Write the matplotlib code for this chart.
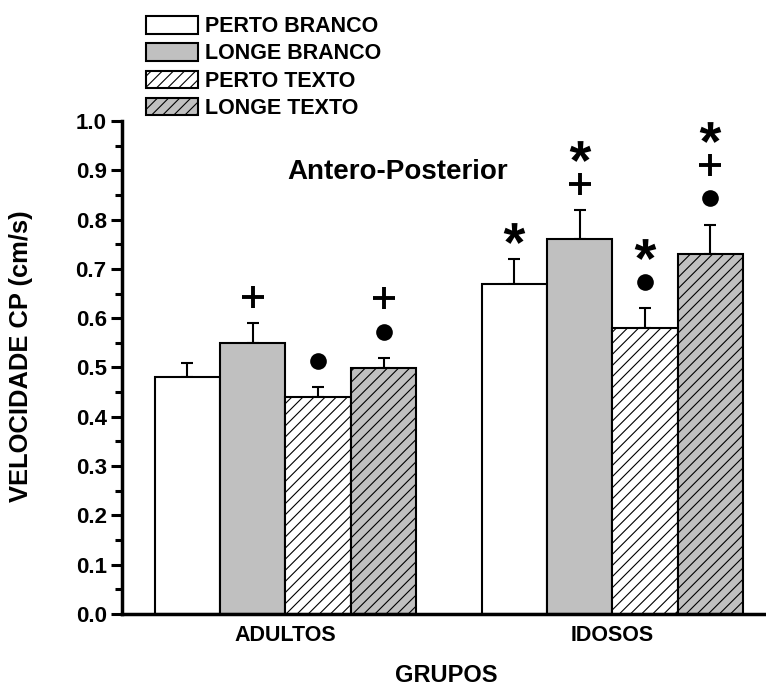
import numpy as np
import matplotlib
matplotlib.use("Agg")
import matplotlib.pyplot as plt
from matplotlib.path import Path
from matplotlib.textpath import TextPath
from matplotlib.font_manager import FontProperties
from matplotlib.ticker import MultipleLocator, FormatStrFormatter

plt.rcParams['font.family'] = ['Liberation Sans', 'DejaVu Sans']
plt.rcParams['font.weight'] = 'bold'
plt.rcParams['hatch.linewidth'] = 0.8

grupos = ['ADULTOS', 'IDOSOS']
condicoes = ['PERTO BRANCO', 'LONGE BRANCO', 'PERTO TEXTO', 'LONGE TEXTO']

# means and (upper) SE per condition, one value per group
medias = {
    'PERTO BRANCO': [0.48, 0.67],
    'LONGE BRANCO': [0.55, 0.76],
    'PERTO TEXTO': [0.44, 0.58],
    'LONGE TEXTO': [0.50, 0.73],
}
erros = {
    'PERTO BRANCO': [0.03, 0.05],
    'LONGE BRANCO': [0.04, 0.06],
    'PERTO TEXTO': [0.02, 0.04],
    'LONGE TEXTO': [0.02, 0.06],
}
# significance marks, listed from bottom to top
marcas = {
    'PERTO BRANCO': [[], ['*']],
    'LONGE BRANCO': [['+'], ['+', '*']],
    'PERTO TEXTO': [['o'], ['o', '*']],
    'LONGE TEXTO': [['o', '+'], ['o', '+', '*']],
}

cores = {'PERTO BRANCO': 'white', 'LONGE BRANCO': '#c0c0c0',
         'PERTO TEXTO': 'white', 'LONGE TEXTO': '#c0c0c0'}
hachuras = {'PERTO BRANCO': None, 'LONGE BRANCO': None,
            'PERTO TEXTO': '///', 'LONGE TEXTO': '///'}

# asterisk marker from the font glyph, centred on its ink
tp = TextPath((0, 0), '*', prop=FontProperties(family='Liberation Sans', weight='bold'))
ext = tp.get_extents()
centro = np.array([(ext.x0 + ext.x1) / 2, (ext.y0 + ext.y1) / 2])
verts = tp.vertices.copy()
verts[tp.codes == Path.CLOSEPOLY] = centro
asterisco = Path(verts - centro, tp.codes)

estilo_marca = {
    '*': dict(marker=asterisco, markersize=15.5, color='black', markeredgewidth=0),
    '+': dict(marker='+', markersize=16, color='black', markeredgewidth=2.8),
    'o': dict(marker='o', markersize=12, color='black', markeredgewidth=0),
}

fig = plt.figure(figsize=(7.66, 6.86), dpi=100)
ax = fig.add_axes([122 / 766, 1 - 614 / 686, 1 - 122 / 766, (614 - 121) / 686])

x = np.arange(len(grupos))
largura = 0.2
for i, c in enumerate(condicoes):
    pos = x + (i - 1.5) * largura
    m = np.array(medias[c])
    e = np.array(erros[c])
    ax.bar(pos, m, largura, color=cores[c], edgecolor='black', linewidth=1.5,
           hatch=hachuras[c], label=c, zorder=2)
    ax.errorbar(pos, m, yerr=[np.zeros_like(e), e], fmt='none', ecolor='black',
                elinewidth=1.5, capsize=4, capthick=1.5, zorder=1)
    for j in range(len(grupos)):
        topo = m[j] + e[j]
        for k, s in enumerate(marcas[c][j]):
            ax.plot(pos[j], topo + 0.053 + k * 0.067, linestyle='none',
                    clip_on=False, **estilo_marca[s])

ax.set_xlim(-0.5, 1.47)
ax.set_ylim(0, 1.0)
ax.set_xticks(x)
ax.set_xticklabels(grupos, fontsize=15.5, fontweight='bold')
ax.tick_params(axis='x', length=0, pad=8)
ax.yaxis.set_major_locator(MultipleLocator(0.1))
ax.yaxis.set_minor_locator(MultipleLocator(0.05))
ax.yaxis.set_major_formatter(FormatStrFormatter('%.1f'))
ax.tick_params(axis='y', which='major', length=8, width=2.2, labelsize=16, pad=3)
ax.tick_params(axis='y', which='minor', length=5, width=2.2)
for lbl in ax.get_yticklabels():
    lbl.set_fontweight('bold')

ax.spines['top'].set_visible(False)
ax.spines['right'].set_visible(False)
ax.spines['left'].set_linewidth(2.5)
ax.spines['bottom'].set_linewidth(2.5)

ax.set_ylabel('VELOCIDADE CP (cm/s)', fontsize=18.4, fontweight='bold')
ax.yaxis.set_label_coords(-0.138, 0.523)
ax.set_xlabel('GRUPOS', fontsize=17, fontweight='bold')
ax.xaxis.set_label_coords(0.503, -0.101)
ax.text(398 / 766, 1 - 172 / 686, 'Antero-Posterior', transform=fig.transFigure,
        ha='center', va='center', fontsize=20, fontweight='bold')

leg = ax.legend(loc='upper left', bbox_to_anchor=(146 / 766, 1 - 16 / 686),
                bbox_transform=fig.transFigure, frameon=False,
                prop=dict(size=15.5, weight='bold'),
                handlelength=2.42, handleheight=0.88, handletextpad=0.3,
                labelspacing=0.28, borderpad=0, borderaxespad=0)

fig.savefig('out.png', dpi=100)
